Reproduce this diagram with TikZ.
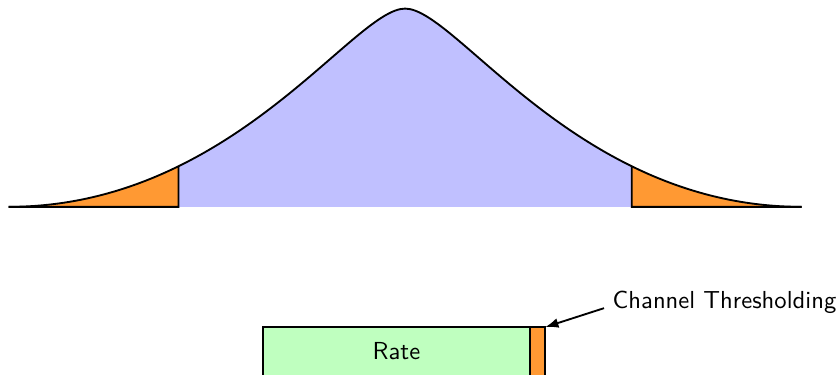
\documentclass[tikz,border=0pt]{standalone}
\usepackage{tikz}
\usetikzlibrary{arrows.meta,positioning,intersections}
\definecolor{CurveBlue}{HTML}{C0C0FF}
\definecolor{TailOrange}{HTML}{FF9933}
\definecolor{RateGreen}{HTML}{BFFFBF}

\begin{document}
\begin{tikzpicture}[thick, every node/.style={font=\sffamily\fontsize{10.6pt}{12.5pt}\selectfont},
    bellcurve/.style={insert path={(-6,0) .. controls (-2.62,0) and (-0.78,3) .. (0,3) .. controls (0.78,3) and (2.62,0) .. (6,0)}},
    bar/.style={draw, outer sep=0pt, inner sep=0pt, minimum height=0.74cm, anchor=north west}]
  \useasboundingbox (-6.13,-2.54) rectangle (6.52,3.13);
  % distribution with both tails cut off
  \fill[CurveBlue, bellcurve] -- cycle;
  \begin{scope}
    \clip (-6.2,-0.2) rectangle (-3.43,3.2);
    \fill[TailOrange, bellcurve] -- cycle;
  \end{scope}
  \begin{scope}
    \clip (3.43,-0.2) rectangle (6.2,3.2);
    \fill[TailOrange, bellcurve] -- cycle;
  \end{scope}
  \draw[name path=bell, bellcurve];
  \path[name path=cutleft] (-3.43,0) -- (-3.43,3);
  \path[name path=cutright] (3.43,0) -- (3.43,3);
  \path[name intersections={of=bell and cutleft, by=lefttop}];
  \path[name intersections={of=bell and cutright, by=righttop}];
  \coordinate (leftfoot) at (-3.43,0);
  \coordinate (rightfoot) at (3.43,0);
  \draw (-6,0) -- (leftfoot) -- (lefttop);
  \draw (6,0) -- (rightfoot) -- (righttop);
  % rate bar
  \node[bar, fill=RateGreen, minimum width=4.04cm] (rate) at (-2.15,-1.82) {Rate};
  \node[bar, fill=TailOrange, minimum width=0.23cm] (thresh) at (rate.north east) {};
  \node[anchor=west] (label) at (3.01,-1.44) {Channel Thresholding};
  \draw[-{Latex[length=2mm]}] (label.base west) -- (thresh.north east);
\end{tikzpicture}
\end{document}
